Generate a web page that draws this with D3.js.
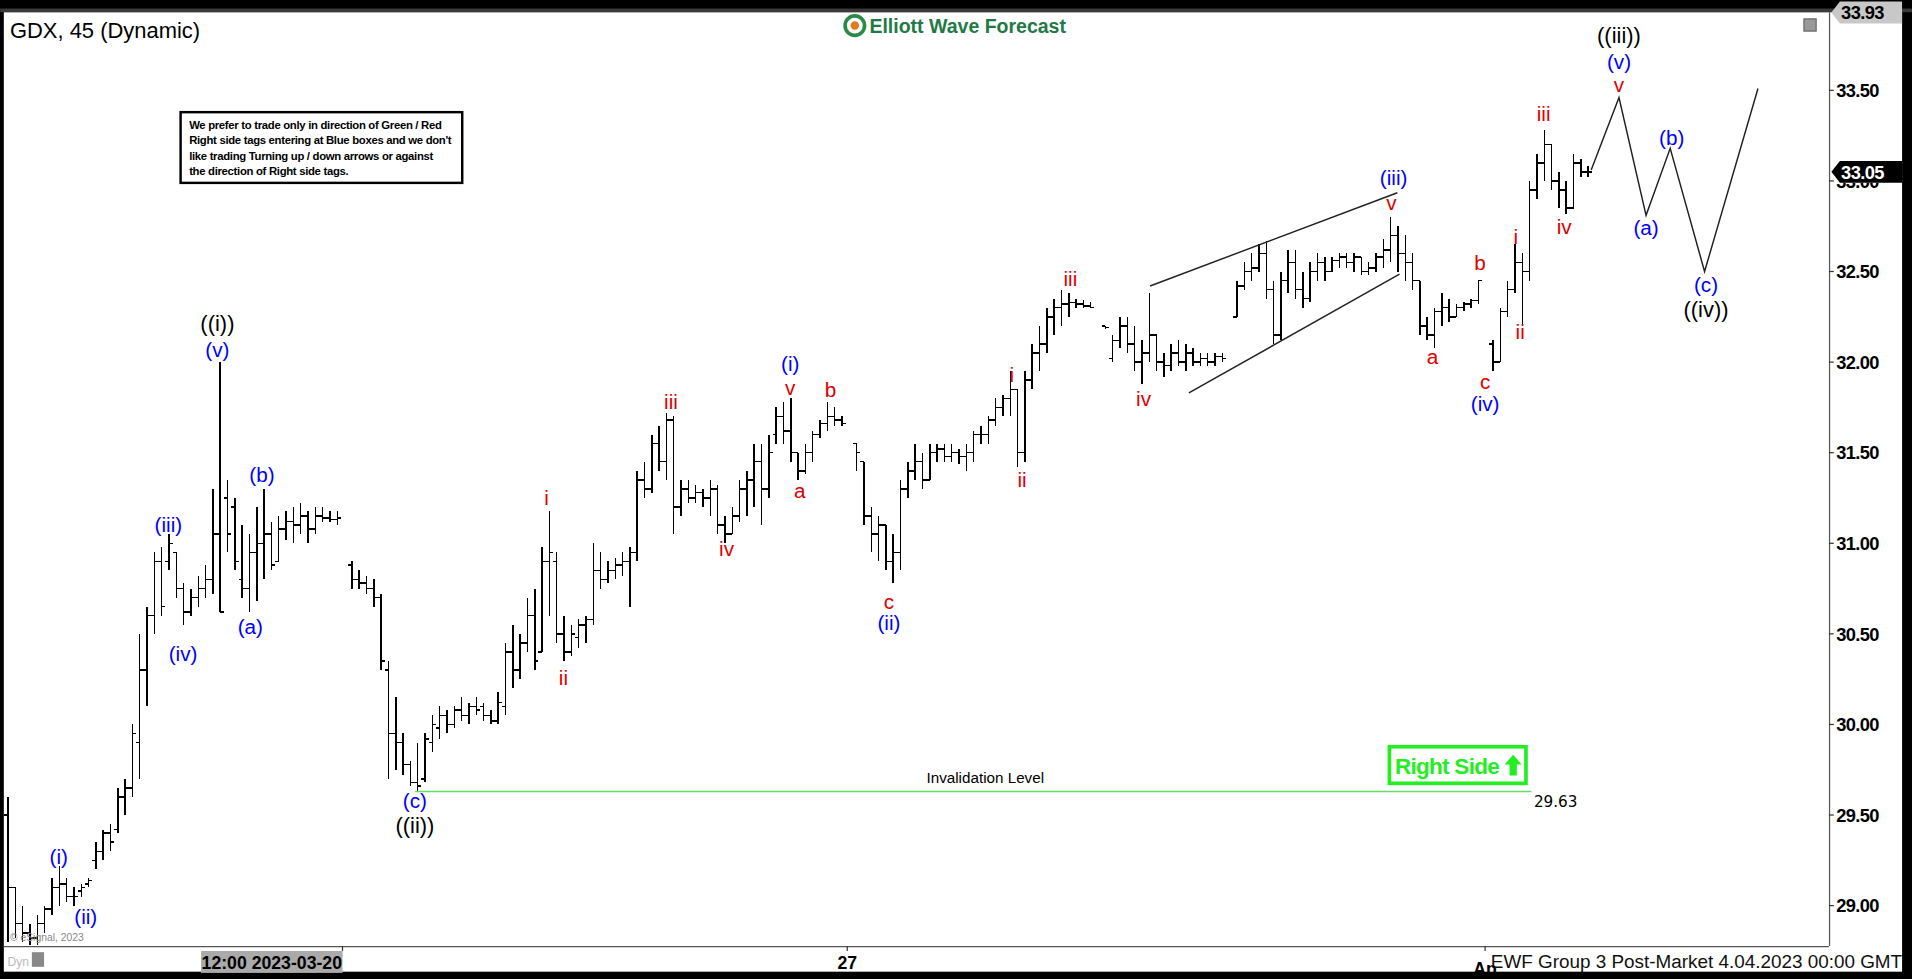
<!DOCTYPE html>
<html><head><meta charset="utf-8">
<script src="https://cdn.jsdelivr.net/npm/d3@7"></script>
<style>html,body{margin:0;padding:0;background:#000;overflow:hidden}svg{display:block}</style>
</head><body>
<svg id="c" width="1912" height="979" viewBox="0 0 1568 803"></svg>
<script>
// ---- DATA (45-min OHLC bars, slot index -> time position) ----
const slots = [0,1,2,3,4,5,6,7,8,9,10,11,12,13,14,15,16,17,18,19,20,21,22,23,24,25,26,27,28,29,30,31,32,33,34,35,36,37,38,39,40,41,42,43,44,45,
47,48,49,50,51,52,53,54,55,56,57,58,59,60,61,62,63,64,65,66,67,68,69,70,71,72,73,74,75,76,77,78,79,80,81,82,83,84,85,86,87,88,89,90,91,92,93,94,95,96,97,98,99,100,101,102,103,104,105,106,107,108,109,110,111,112,113,114,
116,117,118,119,120,121,122,123,124,125,126,127,128,129,130,131,132,133,134,135,136,137,138,139,140,141,142,143,144,145,146,147,148,
150,151,152,153,154,155,156,157,158,159,160,161,162,163,164,165,166,
168,169,170,171,172,173,174,175,176,177,178,179,180,181,182,183,184,185,186,187,188,189,190,191,192,193,194,195,196,197,198,199,200,201,
203,204,205,206,207,208,209,210,211,212,213,214,215,216];
const highs = [29.6,29.1,29.0,28.9,28.95,29.0,29.15,29.22,29.15,29.1,29.12,29.15,29.35,29.42,29.45,29.65,29.7,30.0,30.5,30.65,30.95,30.98,31.05,30.95,30.78,30.75,30.82,30.88,31.3,32.0,31.35,31.25,31.1,31.05,31.2,31.3,31.12,31.15,31.18,31.2,31.22,31.18,31.2,31.2,31.18,31.18,
30.9,30.85,30.82,30.8,30.72,30.35,30.15,29.95,29.8,29.9,29.95,30.05,30.1,30.08,30.1,30.15,30.12,30.15,30.12,30.08,30.18,30.45,30.55,30.5,30.7,30.75,30.98,31.18,30.95,30.6,30.55,30.58,30.6,31.0,30.95,30.9,30.92,30.95,30.98,31.4,31.45,31.6,31.65,31.72,31.7,31.35,31.35,31.32,31.3,31.35,31.32,31.15,31.2,31.35,31.4,31.55,31.55,31.6,31.75,31.78,31.8,31.5,31.55,31.62,31.68,31.78,31.75,31.7,
31.55,31.45,31.2,31.15,31.1,31.05,31.35,31.45,31.55,31.5,31.55,31.55,31.55,31.55,31.52,31.55,31.62,31.65,31.7,31.8,31.82,31.95,31.85,31.95,32.1,32.2,32.3,32.35,32.4,32.38,32.35,32.34,32.33,
32.2,32.15,32.25,32.25,32.2,32.12,32.38,32.15,32.05,32.1,32.12,32.1,32.08,32.05,32.05,32.05,32.05,
32.45,32.55,32.6,32.65,32.67,32.45,32.5,32.62,32.62,32.5,32.55,32.6,32.58,32.58,32.6,32.6,32.6,32.58,32.55,32.6,32.68,32.8,32.75,32.7,32.6,32.45,32.25,32.3,32.38,32.35,32.32,32.33,32.35,32.45,
32.12,32.3,32.45,32.65,32.6,33.0,33.15,33.28,33.2,33.05,33.0,33.15,33.12,33.08];
const lows = [28.8,28.82,28.8,28.78,28.78,28.85,28.95,29.0,29.02,29.0,29.05,29.1,29.2,29.25,29.3,29.4,29.5,29.6,29.7,30.1,30.5,30.6,30.85,30.7,30.55,30.6,30.65,30.7,30.72,30.62,30.95,30.85,30.7,30.62,30.68,30.8,30.85,30.9,31.02,31.0,31.05,31.0,31.05,31.12,31.12,31.1,
30.75,30.75,30.72,30.65,30.3,29.7,29.75,29.72,29.66,29.63,29.68,29.85,29.92,29.95,29.98,30.02,30.0,30.05,30.02,30.0,30.0,30.05,30.2,30.25,30.4,30.3,30.4,30.6,30.45,30.35,30.38,30.42,30.45,30.55,30.75,30.78,30.8,30.82,30.65,30.9,31.25,31.28,31.4,31.35,31.05,31.15,31.22,31.22,31.2,31.15,31.05,31.0,31.05,31.12,31.15,31.2,31.1,31.25,31.55,31.55,31.45,31.35,31.38,31.45,31.58,31.62,31.65,31.65,
31.4,31.1,30.95,30.9,30.85,30.78,30.85,31.25,31.35,31.3,31.35,31.45,31.45,31.45,31.44,31.4,31.45,31.55,31.55,31.65,31.7,31.7,31.42,31.45,31.85,31.95,32.05,32.15,32.2,32.25,32.3,32.3,32.3,
32.18,32.0,32.08,32.05,31.95,31.88,32.0,31.95,31.92,31.95,31.98,31.95,31.98,31.98,31.98,31.98,32.0,
32.25,32.4,32.45,32.5,32.35,32.1,32.12,32.38,32.35,32.3,32.33,32.45,32.45,32.5,32.52,32.52,32.5,32.48,32.48,32.5,32.52,32.55,32.5,32.45,32.4,32.15,32.12,32.08,32.2,32.22,32.25,32.28,32.3,32.32,
31.95,32.0,32.25,32.38,32.2,32.45,32.9,33.0,32.95,32.85,32.82,32.85,33.02,33.02];
const opens = [29.5,29.1,28.9,28.85,28.82,28.9,28.98,29.1,29.12,29.05,29.08,29.12,29.25,29.3,29.4,29.42,29.6,29.65,29.9,30.3,30.6,30.9,30.9,30.95,30.75,30.62,30.7,30.75,30.8,31.05,31.25,31.2,30.8,30.75,30.95,31.0,31.05,30.9,31.08,31.12,31.1,31.15,31.08,31.15,31.14,31.13,
30.88,30.8,30.78,30.75,30.7,30.3,29.95,29.9,29.78,29.68,29.7,29.9,29.98,30.05,30.0,30.08,30.05,30.1,30.1,30.05,30.02,30.1,30.4,30.3,30.45,30.6,30.4,30.9,30.9,30.5,30.4,30.48,30.55,30.58,30.85,30.8,30.85,30.88,30.9,30.95,31.35,31.3,31.55,31.45,31.68,31.2,31.3,31.25,31.28,31.25,31.3,31.1,31.05,31.15,31.3,31.35,31.45,31.3,31.6,31.7,31.62,31.5,31.4,31.5,31.6,31.66,31.7,31.68,
31.55,31.45,31.15,31.05,31.1,30.9,30.95,31.3,31.4,31.45,31.35,31.5,31.52,31.48,31.5,31.48,31.5,31.6,31.6,31.68,31.75,31.8,31.85,31.5,31.9,32.05,32.1,32.25,32.3,32.32,32.33,32.32,32.31,
32.2,32.02,32.12,32.2,32.1,32.0,32.05,32.15,32.0,31.98,32.05,32.0,32.05,32.0,32.02,32.0,32.03,
32.25,32.42,32.5,32.52,32.6,32.4,32.15,32.45,32.55,32.4,32.35,32.5,32.55,32.5,32.56,32.58,32.55,32.58,32.5,32.52,32.58,32.62,32.7,32.6,32.55,32.45,32.2,32.15,32.28,32.3,32.25,32.3,32.32,32.34,
32.1,32.0,32.28,32.4,32.55,32.5,32.95,33.1,33.2,33.0,32.95,32.85,33.1,33.05];
const closes = [29.1,28.9,28.85,28.82,28.9,28.98,29.1,29.12,29.05,29.05,29.1,29.14,29.3,29.4,29.35,29.6,29.65,29.95,30.3,30.6,30.9,30.65,31.0,30.75,30.62,30.7,30.75,30.8,31.05,30.62,31.05,30.9,30.75,30.95,31.0,31.05,30.88,31.08,31.12,31.1,31.15,31.08,31.15,31.14,31.13,31.14,
30.8,30.78,30.75,30.7,30.35,29.95,29.9,29.78,29.68,29.66,29.92,30.0,30.05,30.0,30.08,30.05,30.1,30.08,30.05,30.02,30.12,30.4,30.3,30.45,30.6,30.35,30.9,30.95,30.5,30.4,30.5,30.55,30.58,30.85,30.8,30.85,30.88,30.9,30.95,31.35,31.3,31.55,31.45,31.68,31.2,31.3,31.25,31.28,31.25,31.3,31.1,31.05,31.15,31.3,31.35,31.45,31.3,31.5,31.7,31.62,31.5,31.4,31.5,31.6,31.66,31.7,31.68,31.66,
31.5,31.15,31.05,31.1,30.9,30.95,31.3,31.4,31.45,31.35,31.5,31.52,31.48,31.5,31.48,31.5,31.6,31.6,31.68,31.75,31.8,31.85,31.5,31.9,32.05,32.1,32.25,32.3,32.32,32.33,32.32,32.31,32.3,
32.19,32.12,32.2,32.1,32.0,32.05,32.15,32.0,31.98,32.05,32.0,32.05,32.0,32.02,32.0,32.03,32.02,
32.42,32.5,32.52,32.6,32.4,32.15,32.45,32.55,32.4,32.35,32.5,32.55,32.5,32.56,32.58,32.55,32.58,32.5,32.52,32.58,32.62,32.7,32.6,32.55,32.45,32.2,32.15,32.28,32.3,32.25,32.3,32.32,32.34,32.45,
32.0,32.28,32.4,32.55,32.5,32.95,33.1,33.2,33.0,32.95,32.85,33.1,33.05,33.05];

const priceTicks = [29.00,29.50,30.00,30.50,31.00,31.50,32.00,32.50,33.00,33.50];
const timeLabels = [{slot:45.8,text:"12:00 2023-03-20",box:true},{slot:114.8,text:"27",box:false},{slot:202,text:"Ap",box:false}];

// Projected path (slot, price)
const projSlots = [216.5,220.3,224,227.3,232,239.3];
const projPrices = [33.06,33.46,32.81,33.18,32.5,33.51];
// Wedge lines
const wedgeUpper = [[156.2,32.42],[190,32.935]];
const wedgeLower = [[161.5,31.83],[190.3,32.485]];

// Wave labels [text, slot, price, color]
const waveLabels = [
["((i))",28.7,32.21,"#000"],["(v)",28.7,32.07,"#0000ff"],["(i)",7,29.27,"#0000ff"],["(ii)",10.7,28.94,"#0000ff"],
["(iii)",22,31.10,"#0000ff"],["(iv)",24,30.39,"#0000ff"],["(a)",33.2,30.54,"#0000ff"],["(b)",34.8,31.38,"#0000ff"],
["(c)",55.7,29.58,"#0000ff"],["((ii))",55.7,29.44,"#000"],
["i",73.7,31.25,"#e00000"],["ii",76,30.26,"#e00000"],["iii",90.7,31.78,"#e00000"],["iv",98.3,30.97,"#e00000"],
["(i)",107,31.99,"#0000ff"],["v",107,31.86,"#e00000"],["b",112.5,31.85,"#e00000"],["a",108.3,31.29,"#e00000"],
["c",120.5,30.68,"#e00000"],["(ii)",120.5,30.56,"#0000ff"],
["i",137.3,31.93,"#e00000"],["ii",138.7,31.35,"#e00000"],["iii",145.3,32.46,"#e00000"],["iv",155.3,31.80,"#e00000"],
["(iii)",189.5,33.02,"#0000ff"],["v",189.2,32.88,"#e00000"],["a",194.8,32.03,"#e00000"],["b",201.3,32.55,"#e00000"],
["c",202,31.89,"#e00000"],["(iv)",202,31.77,"#0000ff"],["i",206.2,32.69,"#e00000"],["ii",206.8,32.17,"#e00000"],
["iii",210,33.37,"#e00000"],["iv",212.8,32.75,"#e00000"],
["((iii))",220.3,33.80,"#000"],["(v)",220.3,33.66,"#0000ff"],["v",220.3,33.53,"#e00000"],
["(a)",224,32.74,"#0000ff"],["(b)",227.5,33.24,"#0000ff"],["(c)",232.2,32.43,"#0000ff"],["((iv))",232.2,32.29,"#000"]
];
const invalidation = 29.63;
const lastPrice = 33.05, topPrice = 33.93;

// ---- DRAW ----
const W=1568,H=803;
const svg=d3.select("#c");
const F="'Liberation Sans',Arial,sans-serif";
const plotL=3, plotR=1500, plotT=10, plotB=776;
svg.append("rect").attr("width",W).attr("height",H).attr("fill","#000");
svg.append("rect").attr("x",plotL).attr("y",plotT).attr("width",W-plotL-8).attr("height",plotB+21-plotT).attr("fill","#fff");
svg.append("rect").attr("x",0).attr("y",7).attr("width",W).attr("height",3).attr("fill","#3a3a3a");

const x=d3.scaleLinear().domain([0,216]).range([6,1302]);
const y=d3.scaleLinear().domain([32,33]).range([297,148.4]);

svg.append("clipPath").attr("id","pc").append("rect").attr("x",plotL).attr("y",plotT).attr("width",plotR-plotL).attr("height",plotB-plotT);
const g=svg.append("g").attr("clip-path","url(#pc)");

// bars
const bars=slots.map((s,i)=>({s,h:highs[i],l:lows[i],o:opens[i],c:closes[i]}));
const bg=g.append("g").attr("stroke","#000").attr("stroke-width",1.2).attr("shape-rendering","crispEdges");
bars.forEach(b=>{
  const cx=Math.round(x(b.s))+0.5;
  bg.append("line").attr("x1",cx).attr("x2",cx).attr("y1",y(b.h)).attr("y2",y(b.l));
  bg.append("line").attr("x1",cx-3).attr("x2",cx).attr("y1",y(b.o)).attr("y2",y(b.o));
  bg.append("line").attr("x1",cx).attr("x2",cx+3).attr("y1",y(b.c)).attr("y2",y(b.c));
});

// wedge + projection
const ln=d3.line().x(d=>x(d[0])).y(d=>y(d[1]));
[wedgeUpper,wedgeLower].forEach(w=>g.append("path").attr("d",ln(w)).attr("stroke","#222").attr("stroke-width",1.2).attr("fill","none"));
g.append("path").attr("d",ln(projSlots.map((s,i)=>[s,projPrices[i]]))).attr("stroke","#222").attr("stroke-width",1.2).attr("fill","none");

// invalidation
g.append("line").attr("x1",x(55.7)).attr("x2",1256).attr("y1",y(invalidation)).attr("y2",y(invalidation)).attr("stroke","#66dd66").attr("stroke-width",1.2);
svg.append("text").attr("x",808).attr("y",642).attr("text-anchor","middle").attr("font-family",F).attr("font-size",12.5).text("Invalidation Level");
svg.append("text").attr("x",1258).attr("y",662).attr("font-family","'DejaVu Sans',sans-serif").attr("font-size",12.5).text(invalidation.toFixed(2));

// Right side tag
const rs=svg.append("g");
rs.append("rect").attr("x",1139.5).attr("y",612.5).attr("width",112).attr("height",30).attr("fill","#fff").attr("stroke","#22ee22").attr("stroke-width",3);
rs.append("text").attr("x",1144).attr("y",635).attr("font-family",F).attr("font-weight","bold").attr("font-size",18.5).attr("fill","#22ee22").attr("letter-spacing",-0.6).text("Right Side");
rs.append("path").attr("d","M1241 619 L1248 627 L1244 627 L1244 636 L1238 636 L1238 627 L1234 627 Z").attr("fill","#22ee22");

// wave labels
svg.append("g").selectAll("text").data(waveLabels).join("text")
  .attr("x",d=>x(d[1])).attr("y",d=>y(d[2])+6).attr("text-anchor","middle")
  .attr("font-family",F).attr("font-size",d=>d[3]==="#000"?18:17).attr("fill",d=>d[3]).text(d=>d[0]);

// axes
svg.append("line").attr("x1",plotR+0.5).attr("x2",plotR+0.5).attr("y1",plotT).attr("y2",plotB).attr("stroke","#555");
svg.append("line").attr("x1",plotL).attr("x2",plotR).attr("y1",plotB+0.5).attr("y2",plotB+0.5).attr("stroke","#555");
const pa=svg.append("g");
const lastY=y(lastPrice);
svg.append("clipPath").attr("id","hid").append("rect").attr("x",plotR).attr("y",lastY+9).attr("width",70).attr("height",20);
priceTicks.forEach(p=>{
  pa.append("line").attr("x1",plotR).attr("x2",plotR+4).attr("y1",y(p)).attr("y2",y(p)).attr("stroke","#333");
  const t=pa.append("text").attr("x",plotR+6).attr("y",y(p)+5.5).attr("font-family",F).attr("font-weight","bold").attr("font-size",15).attr("letter-spacing",-0.5).text(p.toFixed(2));
  if(Math.abs(y(p)-lastY)<14) t.attr("clip-path","url(#hid)");
});
function tag(p,fill,col){
  const yy=y(p);
  pa.append("path").attr("d",`M${plotR+2} ${yy} L${plotR+9} ${yy-9} L${W-8} ${yy-9} L${W-8} ${yy+9} L${plotR+9} ${yy+9} Z`).attr("fill",fill);
  pa.append("text").attr("x",plotR+10).attr("y",yy+5.5).attr("font-family",F).attr("font-weight","bold").attr("font-size",15).attr("letter-spacing",-0.5).attr("fill",col).text(p.toFixed(2));
}
tag(topPrice,"#c8c8c8","#000");
tag(lastPrice,"#000","#fff");
pa.append("rect").attr("x",1479.5).attr("y",15.5).attr("width",10).attr("height",10).attr("fill","#999").attr("stroke","#666");

// time axis
svg.append("clipPath").attr("id","apc").append("rect").attr("x",1200).attr("y",786).attr("width",30).attr("height",12);
timeLabels.forEach(t=>{
  const tx=x(t.slot);
  svg.append("line").attr("x1",tx).attr("x2",tx).attr("y1",plotB).attr("y2",plotB+4).attr("stroke","#333");
  if(t.box){
    svg.append("rect").attr("x",tx-116).attr("y",780).attr("width",116).attr("height",18).attr("fill","#aaa");
    svg.append("text").attr("x",tx-58).attr("y",795).attr("text-anchor","middle").attr("font-family",F).attr("font-weight","bold").attr("font-size",14.5).text(t.text);
  } else {
    const tt=svg.append("text").attr("x",tx).attr("y",795).attr("text-anchor","middle").attr("font-family",F).attr("font-weight","bold").attr("font-size",14.5).text(t.text);
    if(t.text==="Ap") tt.attr("y",800).attr("clip-path","url(#apc)");
  }
});
svg.append("text").attr("x",1560).attr("y",794).attr("text-anchor","end").attr("font-family",F).attr("font-size",15.5).attr("fill","#111").text("EWF Group 3 Post-Market 4.04.2023 00:00 GMT");
svg.append("text").attr("x",6).attr("y",792).attr("font-family",F).attr("font-size",10).attr("fill","#bbb").text("Dyn");
svg.append("rect").attr("x",26).attr("y",781).attr("width",10).attr("height",12).attr("fill","#888");
svg.append("text").attr("x",8).attr("y",772).attr("font-family",F).attr("font-size",8.5).attr("fill","#888").text("© eSignal, 2023");

// header
svg.append("text").attr("x",8).attr("y",31).attr("font-family",F).attr("font-size",18).text("GDX, 45 (Dynamic)");
const lg=svg.append("g");
lg.append("circle").attr("cx",701).attr("cy",21).attr("r",8).attr("fill","none").attr("stroke","#2a8a4a").attr("stroke-width",3);
lg.append("circle").attr("cx",701).attr("cy",21).attr("r",3.5).attr("fill","#e07a1a");
lg.append("text").attr("x",713).attr("y",27).attr("font-family",F).attr("font-weight","bold").attr("font-size",16).attr("fill","#1f7a45").text("Elliott Wave Forecast");

// note box
const nb=svg.append("g");
nb.append("rect").attr("x",148).attr("y",92).attr("width",231).attr("height",58).attr("fill","#fff").attr("stroke","#000").attr("stroke-width",2);
["We prefer to trade only in direction of Green / Red","Right side tags entering at Blue boxes and we don't","like trading Turning up / down arrows or against","the direction of Right side tags."]
 .forEach((t,i)=>nb.append("text").attr("x",155).attr("y",106+i*12.5).attr("font-family",F).attr("font-weight","bold").attr("font-size",9.3).attr("letter-spacing",-0.25).text(t));
</script>
</body></html>
